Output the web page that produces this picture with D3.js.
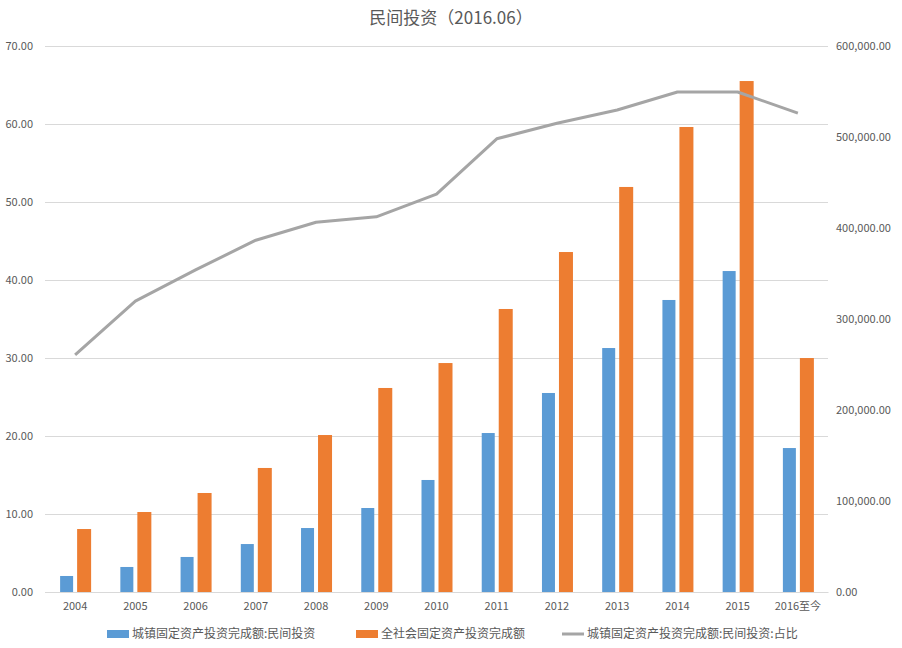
<!DOCTYPE html>
<html><head><meta charset="utf-8">
<script src="https://cdn.jsdelivr.net/npm/d3@7"></script>
<style>
body{margin:0;background:#fff;}
text{font-family:"Noto Sans CJK SC","Noto Sans",sans-serif;fill:#595959;}
</style></head>
<body><svg id="chart" width="902" height="648"></svg>
<script>
const categories = ["2004","2005","2006","2007","2008","2009","2010","2011","2012","2013","2014","2015","2016至今"];
const privateInvest = [17600,27500,38500,52700,70300,92300,123100,174700,218700,268100,320900,352700,158200];
const totalInvest = [69200,87900,108800,136300,172500,224200,251600,311000,373600,445100,511000,561500,257100];
const shareRatio = [30.4,37.3,41.3,45.1,47.4,48.1,51.0,58.1,60.1,61.8,64.1,64.1,61.4];
const leftTicks = [0,10,20,30,40,50,60,70];
const rightTicks = [0,100000,200000,300000,400000,500000,600000];
const seriesNames = ["城镇固定资产投资完成额:民间投资","全社会固定资产投资完成额","城镇固定资产投资完成额:民间投资:占比"];
const colors = ["#5b9bd5","#ed7d31","#a5a5a5"];
const title = "民间投资（2016.06）";

const svg = d3.select("#chart");
const m = {l:45, r:828, t:46, b:592};
const x = d3.scaleBand().domain(categories).range([m.l, m.r]).paddingInner(0).paddingOuter(0);
const yL = d3.scaleLinear().domain([0,70]).range([m.b, m.t]);
const yR = d3.scaleLinear().domain([0,600000]).range([m.b, m.t]);

svg.append("text").attr("x",451).attr("y",24).attr("text-anchor","middle")
  .style("font-size","17px").text(title);

// gridlines
svg.append("g").selectAll("line").data(leftTicks).join("line")
  .attr("x1",m.l).attr("x2",m.r).attr("y1",d=>yL(d)).attr("y2",d=>yL(d))
  .attr("stroke","#d9d9d9").attr("stroke-width",1).attr("shape-rendering","crispEdges");

// left axis
const fmt2 = d3.format(".2f");
const gL = svg.append("g").attr("transform",`translate(${m.l-12},0)`)
  .call(d3.axisLeft(yL).tickValues(leftTicks).tickFormat(fmt2).tickSize(0).tickPadding(0));
gL.select(".domain").remove();
gL.selectAll("text").style("font-size","11px").style("fill","#595959").attr("font-family",null);

// right axis
const fmtR = d3.format(",.2f");
const gR = svg.append("g").attr("transform",`translate(${m.r+8},0)`)
  .call(d3.axisRight(yR).tickValues(rightTicks).tickFormat(fmtR).tickSize(0).tickPadding(0));
gR.select(".domain").remove();
gR.selectAll("text").style("font-size","11px").style("fill","#595959");

// x axis
const gX = svg.append("g").attr("transform",`translate(0,${m.b})`)
  .call(d3.axisBottom(x).tickSize(0).tickPadding(10));
gX.select(".domain").attr("stroke","#d9d9d9");
gX.selectAll("text").style("font-size","11px").style("fill","#595959");

// bars
const bw = 13, gap = 4;
svg.append("g").selectAll("rect").data(categories).join("rect")
  .attr("x",d=>x(d)+x.bandwidth()/2 - gap/2 - bw)
  .attr("y",(d,i)=>yR(privateInvest[i]))
  .attr("width",bw).attr("height",(d,i)=>m.b - yR(privateInvest[i]))
  .attr("fill",colors[0]);
svg.append("g").selectAll("rect").data(categories).join("rect")
  .attr("x",d=>x(d)+x.bandwidth()/2 + gap/2)
  .attr("y",(d,i)=>yR(totalInvest[i]))
  .attr("width",bw+1).attr("height",(d,i)=>m.b - yR(totalInvest[i]))
  .attr("fill",colors[1]);

// line
const line = d3.line().x((d,i)=>x(categories[i])+x.bandwidth()/2).y(d=>yL(d));
svg.append("path").datum(shareRatio).attr("d",line)
  .attr("fill","none").attr("stroke",colors[2]).attr("stroke-width",3).attr("stroke-linejoin","round");

// legend
const legendItems = [
  {name:seriesNames[0], color:colors[0], type:"rect", x:107},
  {name:seriesNames[1], color:colors[1], type:"rect", x:356},
  {name:seriesNames[2], color:colors[2], type:"line", x:562}
];
const lg = svg.append("g").attr("transform","translate(0,634)");
legendItems.forEach(it=>{
  if(it.type==="rect"){
    lg.append("rect").attr("x",it.x).attr("y",-4).attr("width",22).attr("height",8).attr("fill",it.color);
  } else {
    lg.append("line").attr("x1",it.x).attr("x2",it.x+22).attr("y1",0).attr("y2",0).attr("stroke",it.color).attr("stroke-width",3);
  }
  lg.append("text").attr("x",it.x+25).attr("y",0).attr("dy","0.35em").style("font-size","12px").text(it.name);
});
</script></body></html>
